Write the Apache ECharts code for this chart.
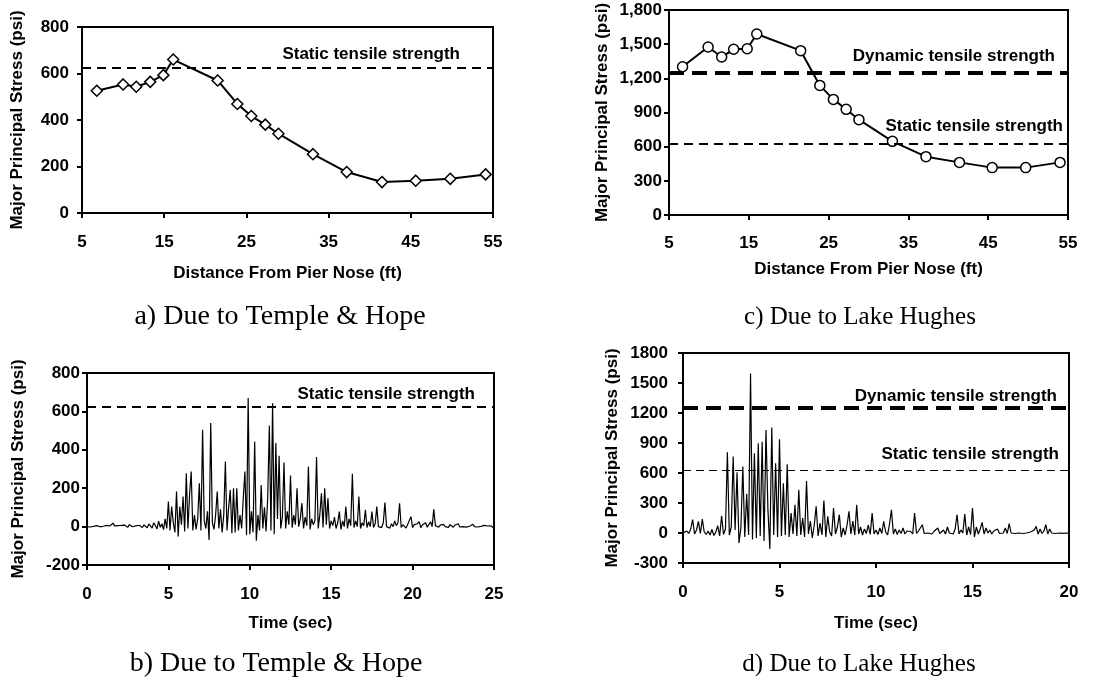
<!DOCTYPE html>
<html>
<head>
<meta charset="utf-8">
<script src="https://cdn.jsdelivr.net/npm/echarts@6/dist/echarts.min.js"></script>
<style>
  html, body { margin: 0; padding: 0; background: #fff; }
  #main { width: 1104px; height: 677px; }
</style>
</head>
<body>
<div id="main"></div>
<script>
// distance from pier nose (ft) and stress (psi), panels a and c
const distA = [6.8, 10.0, 11.6, 13.3, 14.9, 16.1, 21.5, 23.9, 25.6, 27.3, 28.9, 33.1, 37.2, 41.5, 45.6, 49.8, 54.1]
const stressA = [526, 553, 543, 564, 593, 660, 570, 469, 417, 380, 341, 253, 176, 133, 139, 147, 166]
const distC = [6.7, 9.9, 11.6, 13.1, 14.8, 16.0, 21.5, 23.9, 25.6, 27.2, 28.8, 33.0, 37.2, 41.4, 45.5, 49.7, 54.0]
const stressC = [1302, 1475, 1387, 1455, 1460, 1589, 1443, 1138, 1015, 928, 837, 647, 512, 462, 416, 416, 462]

// time histories, one value every 0.1 s
const dtB = 0.1
const stressB = [
  0, 3, -2, 4, 1, -3, 5, 2, -1, 4,
  2, -4, 6, 0, 3, -2, 18, 4, -3, 5,
  1, 6, -2, 8, 3, -4, 10, 2, -1, 5,
  4, -3, 7, 12, -5, 9, 2, -6, 14, 5,
  -8, 20, 6, -12, 28, -4, 15, -16, 40, -10,
  130, -20, 105, 20, -30, 183, -52, 105, 10, 157,
  -25, 278, -10, 165, 287, -20, 60, -15, 40, 226,
  -20, 504, 30, -10, 80, -70, 539, 20, -15, 60,
  183, -10, 90, -30, 60, 339, -20, 100, 190, -35,
  200, -30, 200, -20, 60, -10, 150, 287, -45, 670,
  -40, 80, -30, 443, -73, 60, -20, 217, -10, 100,
  -25, 150, 527, -20, 643, -40, 435, 40, 369, -10,
  50, 334, -10, 80, 10, 266, -5, 60, 10, 200,
  0, 40, 122, -10, 50, 5, 313, -15, 40, 10,
  30, 362, -10, 60, 174, -5, 200, 10, 148, -10,
  30, 5, 50, -10, 20, 78, -15, 30, 0, 104,
  -10, 40, 5, 275, -5, 30, 0, 157, -10, 20,
  5, 87, -5, 25, 0, 78, -5, 15, 104, 0,
  10, -5, 20, 125, 0, 10, -8, 15, 0, 30,
  5, 20, 122, -5, 10, 0, -8, 12, 5, 52,
  -5, 10, 0, 15, 26, -5, 8, 0, 20, -3,
  10, 25, 0, 90, 5, 15, -3, 8, 2, 12,
  0, 6, -4, 10, 2, -3, 8, 0, 15, -2,
  5, 0, 10, -3, 6, 2, -4, 12, 0, 5,
  -2, 8, 1, -4, 6, 0, 3, -2, 4, -5, -8
]
const dtD = 0.1
const stressD = [
  0, -10, 20, -5, 40, 133, -10, 30, 116, -5,
  140, 10, -15, 20, -20, 35, -25, 10, 73, -30,
  173, -15, 40, 807, -20, 60, 764, 30, 608, -100,
  50, 664, -40, 392, -20, 1594, -66, 797, -50, 897,
  -30, 913, -80, 1030, 232, -159, 1056, -20, 697, -40,
  937, -30, 498, -20, 688, -40, 199, -10, 282, -30,
  432, -20, 150, -40, 521, -10, 120, -50, 80, 266,
  -30, 100, -20, 325, -40, 166, 10, -30, 249, -10,
  60, 183, -40, 50, -20, 80, 216, -10, 120, -20,
  282, -10, 60, -20, 40, -5, 80, -15, 199, -10,
  30, -15, 50, -5, 116, 10, -20, 90, 232, -10,
  40, -15, 30, -5, 50, -10, 20, 0, 15, -10,
  199, -5, 20, 0, 83, -5, 10, 0, 5, -10,
  15, 0, 50, -5, 10, 30, -10, 60, 0, 20,
  -10, 40, 183, -10, 30, 0, 189, -20, 60, -15,
  249, -40, 60, -10, 40, 106, -10, 50, 0, 30,
  -10, 20, 5, 40, -5, 15, 0, 50, -5, 93,
  0, 10, -5, 5, 0, 3, -5, 8, 0, 5,
  10, 0, 30, 66, -10, 40, -5, 20, 83, -10,
  40, 0, 20, -5, 10, 0, 5, -3, 8, 0, -5
]

const staticStrength = 625
const dynamicStrength = 1250

const boldFont = 'Liberation Sans'
const lbl = { color: '#000', fontFamily: boldFont, fontWeight: 'bold', fontSize: 17 }
const plain = v => String(v)
const comma = v => v.toLocaleString('en-US')

function xAx(idx, min, max, step, name, nameGap, margin) {
  return {
    gridIndex: idx, type: 'value', min: min, max: max, interval: step,
    name: name, nameLocation: 'middle', nameGap: nameGap,
    nameTextStyle: lbl,
    axisLine: { onZero: false, lineStyle: { color: '#000', width: 2 } },
    axisTick: { length: 5, lineStyle: { color: '#000', width: 2 } },
    axisLabel: Object.assign({ margin: margin, formatter: plain }, lbl),
    splitLine: { show: false }
  }
}
function yAx(idx, min, max, step, nameGap, margin, fmt) {
  return {
    gridIndex: idx, type: 'value', min: min, max: max, interval: step,
    name: 'Major Principal Stress (psi)', nameLocation: 'middle', nameGap: nameGap,
    nameTextStyle: lbl,
    axisLine: { lineStyle: { color: '#000', width: 2 } },
    axisTick: { length: 5, lineStyle: { color: '#000', width: 2 } },
    axisLabel: Object.assign({ margin: margin, formatter: fmt }, lbl),
    splitLine: { show: false }
  }
}

// horizontal strength line with its text at the right end
function refLine(value, text, width, dash, dx, dy) {
  return {
    yAxis: value,
    lineStyle: { color: '#000', width: width, type: dash },
    label: {
      show: true, formatter: text, position: 'insideEndTop',
      distance: [dx, dy], color: '#000', fontFamily: boldFont, fontWeight: 'bold', fontSize: 17
    }
  }
}

const chart = echarts.init(document.getElementById('main'), null, { renderer: 'canvas' })

const caption = (text, left, top, size) => ({
  text: text, left: left, top: top, textAlign: 'center',
  textStyle: { fontFamily: 'Liberation Serif', fontWeight: 'normal', fontSize: size, color: '#000' }
})

chart.setOption({
  backgroundColor: '#fff',
  animation: false,
  title: [
    caption('a) Due to Temple & Hope', 275, 298, 28),
    caption('c) Due to Lake Hughes', 855, 300, 25),
    caption('b) Due to Temple & Hope', 271, 645, 28),
    caption('d) Due to Lake Hughes', 854, 647, 25)
  ],
  grid: [
    { left: 82, top: 27, width: 411, height: 186, show: true, borderColor: '#000', borderWidth: 2 },
    { left: 669, top: 10, width: 399, height: 205, show: true, borderColor: '#000', borderWidth: 2 },
    { left: 87, top: 373, width: 407, height: 192, show: true, borderColor: '#000', borderWidth: 2 },
    { left: 683, top: 353, width: 386, height: 210, show: true, borderColor: '#000', borderWidth: 2 }
  ],
  xAxis: [
    xAx(0, 5, 55, 10, 'Distance From Pier Nose (ft)', 52, 21),
    xAx(1, 5, 55, 10, 'Distance From Pier Nose (ft)', 46, 20),
    xAx(2, 0, 25, 5, 'Time (sec)', 50, 21),
    xAx(3, 0, 20, 5, 'Time (sec)', 52, 21)
  ],
  yAxis: [
    yAx(0, 0, 800, 200, 56, 13, plain),
    yAx(1, 0, 1800, 300, 58, 7, comma),
    yAx(2, -200, 800, 200, 60, 7, plain),
    yAx(3, -300, 1800, 300, 62, 15, plain)
  ],
  series: [
    {
      type: 'line', xAxisIndex: 0, yAxisIndex: 0,
      data: distA.map((d, i) => [d, stressA[i]]),
      symbol: 'diamond', symbolSize: 11, showAllSymbol: true,
      lineStyle: { color: '#000', width: 2 },
      itemStyle: { color: '#fff', borderColor: '#000', borderWidth: 1.5 },
      markLine: { silent: true, symbol: 'none', data: [refLine(staticStrength, 'Static tensile strength', 2, [9, 6], 33, 5)] }
    },
    {
      type: 'line', xAxisIndex: 1, yAxisIndex: 1,
      data: distC.map((d, i) => [d, stressC[i]]),
      symbol: 'circle', symbolSize: 10, showAllSymbol: true,
      lineStyle: { color: '#000', width: 2 },
      itemStyle: { color: '#fff', borderColor: '#000', borderWidth: 1.5 },
      markLine: {
        silent: true, symbol: 'none', data: [
          refLine(dynamicStrength, 'Dynamic tensile strength', 4, [15, 8], 13, 8),
          refLine(staticStrength, 'Static tensile strength', 2, [9, 6], 5, 9)
        ]
      }
    },
    {
      type: 'line', xAxisIndex: 2, yAxisIndex: 2,
      data: stressB.map((v, i) => [+(i * dtB).toFixed(2), v]),
      symbol: 'none',
      lineStyle: { color: '#000', width: 1.2 },
      markLine: { silent: true, symbol: 'none', data: [refLine(staticStrength, 'Static tensile strength', 2, [9, 6], 19, 4)] }
    },
    {
      type: 'line', xAxisIndex: 3, yAxisIndex: 3,
      data: stressD.map((v, i) => [+(i * dtD).toFixed(2), v]),
      symbol: 'none',
      lineStyle: { color: '#000', width: 1.2 },
      markLine: {
        silent: true, symbol: 'none', data: [
          refLine(dynamicStrength, 'Dynamic tensile strength', 4, [15, 8], 12, 3),
          refLine(staticStrength, 'Static tensile strength', 1, [8, 5], 10, 8)
        ]
      }
    }
  ]
})
</script>
</body>
</html>
